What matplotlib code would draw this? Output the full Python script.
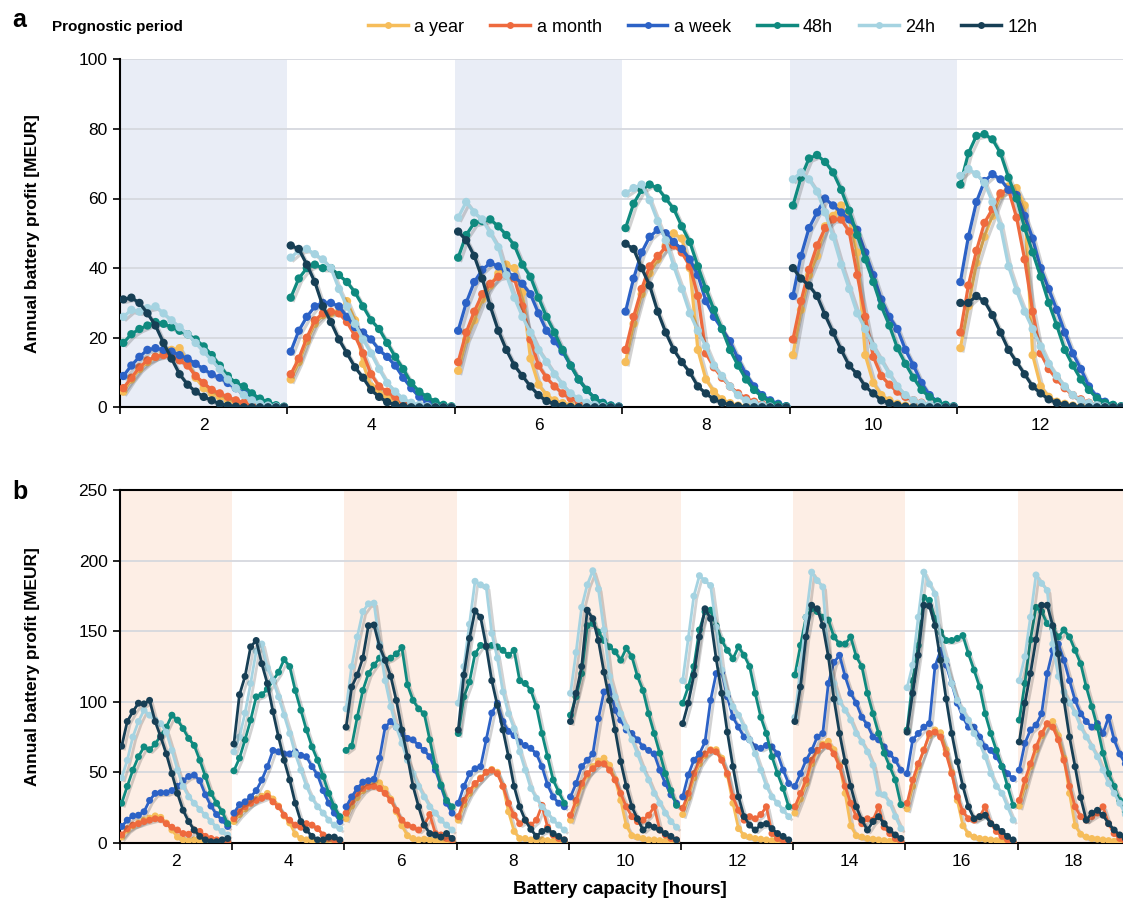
import numpy as np
import matplotlib
matplotlib.use("Agg")
import matplotlib.pyplot as plt
import matplotlib.patheffects as pe
from matplotlib.lines import Line2D

plt.rcParams['font.family'] = ['Liberation Sans', 'DejaVu Sans']

series_names = ['a year', 'a month', 'a week', '48h', '24h', '12h']
series_colors = ['#f6bd5a', '#ee6a3e', '#2c62c6', '#0f8a7f', '#a5d3e1', '#173f55']

# ---- panel a: battery capacity 2..12 h, 21 points per capacity ----
cap_a = [2, 4, 6, 8, 10, 12]

year_a = [
    [4.5, 8, 11, 13, 14.5, 15.5, 16.5, 17, 13, 8.5, 5.5, 4, 3, 2, 1.5, 1, 0.5, 0.2, 0, 0, 0],
    [8, 13, 19, 24, 26.5, 27, 27.5, 30.5, 25, 12.5, 6, 4, 3, 2, 1.2, 0.6, 0.3, 0, 0, 0, 0],
    [10.5, 19.5, 25, 31, 35, 38.5, 41, 40, 33, 14, 6.5, 3.5, 2, 1.2, 0.6, 0.3, 0, 0, 0, 0, 0],
    [13, 24, 32.5, 38.5, 42.5, 46.5, 50, 48.5, 40, 16.5, 8, 4.5, 2.3, 1.2, 0.5, 0.2, 0, 0, 0, 0, 0],
    [15, 28, 38, 43.5, 52, 55, 58, 54, 44.5, 15, 7, 3.5, 2, 1, 0.5, 0.2, 0, 0, 0, 0, 0],
    [17, 29, 41.5, 49, 55, 61, 63.5, 63, 58, 15, 6, 3, 1.6, 1, 0.5, 0.2, 0, 0, 0, 0, 0],
]
month_a = [
    [5.5, 8.5, 11.5, 13.5, 14.5, 15, 14.5, 13.5, 12, 9, 7, 5, 4, 3, 2, 1.3, 0.6, 0.3, 0.1, 0, 0],
    [9.5, 14, 20, 25, 27, 27.5, 27, 24.5, 20.5, 15.5, 9.5, 6, 4.5, 3, 1.6, 1, 0.5, 0.2, 0, 0, 0],
    [13, 21.5, 27.5, 32.5, 35.5, 37.5, 38, 37, 29, 19.5, 12, 8.5, 6, 4, 2.6, 1.6, 1, 0.5, 0.2, 0, 0],
    [16.5, 26, 34, 40.5, 43.5, 46, 46.5, 44.5, 40.5, 32, 15.5, 11.5, 8.5, 6, 4, 2.6, 1.6, 0.8, 0.3, 0, 0],
    [19.5, 30.5, 39.5, 46.5, 51.5, 54, 54, 50.5, 38, 26, 14.5, 9, 6.5, 4.5, 3, 2, 1.3, 0.6, 0.2, 0, 0],
    [21.5, 35, 45, 53, 57, 61.5, 62.5, 54.5, 42.5, 27.5, 15.5, 11, 8, 5.5, 3.5, 2.3, 1.3, 0.6, 0.2, 0, 0],
]
week_a = [
    [9, 12, 14.5, 16.5, 17, 16.5, 16, 15, 14, 12.5, 11, 9.5, 8.5, 7, 5.5, 4, 2.5, 1.5, 0.6, 0.2, 0],
    [16, 22, 26, 29, 30, 30, 29, 26, 23, 21.5, 19.5, 16.5, 14.5, 12, 8.5, 5.5, 3, 1.6, 1, 0.3, 0],
    [22, 30, 36, 39.5, 41.5, 40.5, 39, 37.5, 35.5, 32.5, 27, 22, 19, 16, 12, 8, 5, 2.6, 1.3, 0.5, 0.2],
    [27.5, 37, 44.5, 49, 51, 50, 47.5, 45.5, 42.5, 38, 30.5, 26, 22.5, 19, 14, 9.5, 6, 3.5, 2, 1, 0.3],
    [32, 43.5, 51.5, 56, 60, 58, 56, 54, 51, 44.5, 38, 31, 26, 22.5, 16.5, 12, 7, 3.5, 1.6, 0.6, 0.2],
    [36, 49, 59, 65, 67, 65.5, 62.5, 61, 55, 48.5, 40, 34, 28, 21.5, 15.5, 11, 6, 3, 1.6, 0.6, 0.2],
]
h48_a = [
    [18.5, 21, 22.5, 23.5, 24.5, 24, 23, 22, 21, 19.5, 17.5, 15, 12, 9, 7, 6, 4, 2.5, 1.5, 0.6, 0.2],
    [31.5, 37, 40, 41, 40, 40, 38, 36, 33, 29, 25, 22.5, 18.5, 14.5, 11, 7, 4.5, 3, 1.6, 0.7, 0.3],
    [43, 49.5, 53, 53.5, 54, 52, 49.5, 46.5, 41, 37.5, 31.5, 26, 21.5, 16.5, 12, 8, 5, 2.6, 1.2, 0.5, 0.2],
    [51.5, 58.5, 62.5, 64, 63, 60, 57, 52, 47.5, 40.5, 34, 28, 22.5, 16.5, 12, 8, 5, 3, 1.6, 0.7, 0.3],
    [58, 66, 71.5, 72.5, 70.5, 67.5, 62.5, 56.5, 49.5, 42.5, 36, 29, 23.5, 17, 12.5, 8.5, 5, 3, 1.6, 0.7, 0.3],
    [64, 73, 78, 78.5, 77, 73, 66, 60, 51.5, 44.5, 37.5, 30, 23.5, 16.5, 12, 8, 5, 2.6, 1.3, 0.7, 0.3],
]
h24_a = [
    [26, 28, 27.5, 28.5, 29, 27, 25, 23, 21, 18.5, 16, 13.5, 11, 8, 5.5, 3.5, 2, 1, 0.5, 0.2, 0],
    [43, 45, 45.5, 44, 42.5, 40, 34, 29, 24, 19.5, 15.5, 11, 7, 4.5, 2.5, 1.3, 0.7, 0.3, 0.1, 0, 0],
    [54.5, 59, 56, 54, 50, 46, 38, 31.5, 26, 21.5, 16.5, 13, 9.5, 6.5, 4, 2.5, 1.3, 0.7, 0.3, 0, 0],
    [61.5, 63, 64, 59.5, 53.5, 48, 40.5, 34, 27, 22, 17.5, 12, 9, 6, 3.5, 2, 1.2, 0.6, 0.2, 0, 0],
    [65.5, 67.5, 65.5, 62, 56, 49, 41, 34, 27, 22.5, 17.5, 13.5, 9.5, 6, 3.5, 2, 1.2, 0.7, 0.3, 0, 0],
    [66.5, 68.5, 67, 64.5, 59, 52, 40.5, 33.5, 27.5, 22.5, 17.5, 12.5, 9, 6, 3.5, 2, 1.2, 0.6, 0.2, 0, 0],
]
h12_a = [
    [31, 31.5, 30, 27, 23.5, 18.5, 14, 9.5, 6.5, 4.5, 3, 2, 1, 0.5, 0.2, 0, 0, 0, 0, 0, 0],
    [46.5, 45.5, 41, 36, 29, 24.5, 19.5, 15.5, 11.5, 8.5, 5, 3, 1.5, 0.7, 0.3, 0, 0, 0, 0, 0, 0],
    [50.5, 48, 43.5, 37, 29, 22, 16.5, 12, 9, 6, 3.5, 1.8, 1, 0.4, 0.1, 0, 0, 0, 0, 0, 0],
    [47, 45.5, 40, 35, 27.5, 21.5, 16.5, 13, 10, 6, 4, 2.3, 1.3, 0.7, 0.3, 0, 0, 0, 0, 0, 0],
    [40, 37, 35, 32, 26.5, 21.5, 16.5, 12, 9.5, 6, 4, 2, 1.2, 0.6, 0.2, 0, 0, 0, 0, 0, 0],
    [30, 30, 32, 30.5, 26.5, 21.5, 16.5, 13, 9.5, 6, 4, 2.3, 1.3, 0.7, 0.3, 0, 0, 0, 0, 0, 0],
]

# ---- panel b: battery capacity 2..18 h, 20 points per capacity ----
cap_b = [2, 4, 6, 8, 10, 12, 14, 16, 18]

year_b = [
    [4, 9, 12, 14, 16, 17.5, 19, 18, 14, 9, 4, 2, 1.5, 2, 1.5, 1, 0.5, 0.3, 0.2, 0.1],
    [15, 20, 24, 28, 31, 33, 35, 31, 26, 19, 14, 6, 3, 2, 1.5, 1, 0.5, 0.3, 0.2, 0.1],
    [17, 26, 32, 37, 40, 41.5, 42.5, 38, 31, 22, 12, 5, 3, 2, 2.5, 2, 1.5, 1, 0.5, 0.3],
    [16, 27, 35, 41, 46, 50, 52, 50, 40, 22, 8, 3, 3, 2, 1.5, 2, 1.5, 1, 0.5, 0.3],
    [16, 28, 40, 48, 54, 58, 60, 55, 45, 30, 12, 5, 4, 3, 2, 2, 1.5, 1, 0.5, 0.3],
    [20, 32, 46, 56, 62, 66, 66, 60, 48, 28, 10, 5, 4, 3, 2.5, 2, 1.5, 1, 0.5, 0.3],
    [21, 31, 42, 56, 65, 70, 72, 66, 55, 35, 12, 5, 4, 3, 2.5, 2, 1.5, 1, 0.5, 0.3],
    [24, 40, 54, 66, 76, 80, 78, 66, 50, 30, 12, 6, 4, 3, 2.5, 2, 1.5, 1, 0.5, 0.3],
    [26, 40, 54, 66, 76, 84, 86, 76, 60, 35, 12, 6, 4, 3, 2.5, 2, 1.5, 1, 0.5, 0.3],
]
month_b = [
    [5.5, 10, 12.5, 13.5, 15, 16, 17, 16.5, 13.5, 11, 9, 6.5, 6, 9, 8, 4.5, 3, 2, 1, 0.7],
    [17, 22, 25.5, 28, 30, 31.5, 33, 29, 25.5, 19.5, 16, 12.5, 11, 13.5, 12.5, 10, 5.5, 3, 2, 0.7],
    [21, 29, 35, 38.5, 40, 40, 38.5, 35, 30, 23, 16, 12.5, 11, 9, 12.5, 20, 6.5, 5.5, 3, 2],
    [18.5, 30, 37, 42, 45.5, 50, 51.5, 49, 40, 28, 19.5, 13.5, 16, 12.5, 16, 26.5, 11, 5.5, 3, 2],
    [19.5, 30, 42, 49, 52.5, 56, 56, 51.5, 44.5, 35, 25.5, 18.5, 15, 16, 19.5, 25.5, 9, 5.5, 3, 2],
    [24.5, 35, 49, 58.5, 63, 65.5, 64.5, 58.5, 49, 32.5, 23, 16, 18.5, 17, 20, 25.5, 6.5, 3, 2, 0.7],
    [25.5, 35, 44.5, 58.5, 65.5, 69, 68.5, 63, 54, 40, 28, 18.5, 13.5, 17, 16, 25.5, 11, 6.5, 3, 1],
    [28, 44.5, 56, 65.5, 77.5, 78.5, 75, 63, 49, 32.5, 22, 17, 16, 18.5, 25.5, 13.5, 8, 4.5, 2, 0.7],
    [30, 44.5, 56, 68, 77.5, 84.5, 82, 73, 58.5, 40, 25.5, 18.5, 16, 18.5, 21, 25.5, 13.5, 6.5, 3, 1],
]
week_b = [
    [11.5, 16, 19, 19.5, 22, 30, 35, 35.5, 35.5, 37, 40, 44, 47, 48, 44, 34, 26, 20, 16, 11.5],
    [21, 27, 29, 32.5, 37, 44.5, 54, 65.5, 64.5, 63, 63, 64.5, 62, 61, 54, 48, 37, 28, 21, 15],
    [25.5, 32.5, 38.5, 43, 44, 45, 60, 82, 86, 82, 77.5, 74, 73, 69, 65.5, 61, 51.5, 40, 28, 21],
    [28, 40, 49, 52.5, 54, 73, 92, 99, 86, 79, 76, 71.5, 69, 67, 63, 54, 41, 32.5, 28, 25.5],
    [32.5, 42, 54, 58.5, 63, 88, 107, 110.5, 94, 87, 80, 77.5, 73, 68, 65.5, 63, 51.5, 42, 34, 28],
    [32.5, 48, 58.5, 63, 71.5, 101, 120, 121, 103.5, 89, 82, 75, 73, 68, 67, 69, 68, 63, 51.5, 42],
    [40, 49, 58.5, 65.5, 75, 77.5, 113, 128, 133, 118, 106, 99, 89, 83.5, 75, 73, 68, 63, 58.5, 51.5],
    [49, 73, 77.5, 82, 84.5, 125, 136.5, 126, 113, 99, 89, 82, 82, 75, 68, 65.5, 61, 54, 49, 45.5],
    [51.5, 70.5, 80, 83.5, 91.5, 120, 136.5, 141, 129.5, 115, 101, 91.5, 86, 82, 84.5, 77.5, 89, 73, 63, 56],
]
h48_b = [
    [28, 40, 51.5, 61, 68, 66, 70, 76, 82, 90.5, 87, 81, 74, 69, 58.5, 47, 35, 28, 22, 13.5],
    [51, 60, 73, 87, 103.5, 105, 109, 115, 121, 130, 125, 108, 94, 80, 68, 58.5, 47, 35, 25.5, 18.5],
    [65.5, 68.5, 89, 108, 120, 126, 131, 129.5, 131, 134, 138.5, 112, 101, 95, 91.5, 73, 54, 41, 30, 25.5],
    [77.5, 103.5, 114, 134, 140, 139, 140, 139, 136.5, 133, 136.5, 115, 113, 108, 96.5, 77.5, 61, 44.5, 36, 28],
    [90.5, 103.5, 120, 154, 155.5, 149.5, 143.5, 139, 135.5, 129.5, 138, 132, 118, 108, 91.5, 77.5, 63.5, 49, 37, 26.5],
    [99, 110.5, 125, 151, 164, 165, 154, 143.5, 136.5, 130.5, 139, 133, 125, 106, 89, 77.5, 61, 49, 38.5, 25.5],
    [119, 140, 160, 166, 164, 160, 158, 146, 141, 141, 146, 132, 125, 106, 91.5, 77.5, 63.5, 54, 44.5, 27],
    [80, 115, 140, 174, 172, 159, 149.5, 143.5, 143.5, 145, 147, 134, 122.5, 110.5, 91.5, 77.5, 65.5, 54, 40, 26.5],
    [87, 113, 144, 167, 164, 155.5, 152, 146, 151, 146, 136.5, 127, 110.5, 96.5, 82, 63.5, 49, 40, 30, 22],
]
h24_b = [
    [46, 58.5, 75, 86, 94, 90.5, 87, 84.5, 78.5, 65.5, 51.5, 40, 32.5, 28, 23.5, 19.5, 15, 11, 8, 5.5],
    [64.5, 75, 92, 113, 136, 141, 124, 115, 103.5, 90.5, 77.5, 63, 51.5, 40, 31.5, 25.5, 21, 16, 12.5, 10],
    [95, 125, 146, 164, 169.5, 170, 141, 115, 96.5, 82, 70.5, 58.5, 49, 40, 32.5, 25.5, 21, 16, 12.5, 9],
    [99, 125, 155, 185.5, 183, 181.5, 148.5, 131, 107, 91.5, 81, 64.5, 51.5, 38.5, 31.5, 25.5, 21, 16, 12.5, 9],
    [106, 135, 167, 183, 193, 180, 151, 118, 103.5, 91.5, 82, 73, 63, 52.5, 44.5, 35, 28, 21, 15, 11],
    [115, 145, 175, 189.5, 186, 182.5, 153, 122.5, 106, 96.5, 90.5, 82, 73, 63, 51.5, 40, 32.5, 28, 23, 18.5],
    [89, 123.5, 160, 192, 186, 181.5, 132, 113, 100, 94, 87, 77.5, 71.5, 64.5, 55, 35, 34, 28, 18.5, 10],
    [110, 126, 160, 192, 183.5, 176.5, 144, 129.5, 113, 101, 94, 87, 77.5, 70.5, 61, 49, 40, 35, 25.5, 16],
    [115, 132, 160, 190, 184, 179, 141, 118, 107, 99, 92, 82, 75, 68, 61, 51.5, 42, 35, 28, 20],
]
h12_b = [
    [68.5, 86, 93, 99, 98.5, 101, 86, 75, 63, 49, 35, 23, 15, 9, 4.5, 2, 0.7, 0.7, 2, 3],
    [70, 105, 118, 139, 143.5, 127, 113, 93, 75, 58.5, 44.5, 28, 15, 9, 4.5, 2, 2, 4, 4, 2],
    [82, 110.5, 119, 131, 154, 154.5, 139, 129.5, 118, 101, 80, 61, 40, 25.5, 12.5, 6.5, 5.5, 4, 6.5, 3],
    [80, 119, 145, 164.5, 160, 139.5, 115, 97.5, 80, 61, 40, 25.5, 16, 9.5, 4.5, 8, 9.5, 6.5, 4.5, 2],
    [86, 106, 125, 165, 159, 143.5, 121, 101, 80, 57.5, 40, 25.5, 17, 9, 12.5, 11, 9, 6.5, 4.5, 2],
    [84.5, 99, 119, 146, 166, 159, 130.5, 106, 78.5, 54, 32.5, 18.5, 12.5, 9, 12.5, 13.5, 10, 6.5, 4.5, 2],
    [86, 110.5, 146, 168.5, 166, 154, 132, 102, 77.5, 57.5, 40, 25.5, 16, 9, 15, 18.5, 13.5, 9, 5.5, 3],
    [78.5, 106, 133, 168.5, 168, 154, 129.5, 102, 77.5, 57.5, 40, 25.5, 17, 18.5, 19.5, 13.5, 11, 8, 4.5, 2],
    [71.5, 99, 120, 144, 168.5, 168.5, 154, 134, 101, 75, 54, 32, 16, 21, 23, 19.5, 13.5, 9, 5.5, 3],
]

data_a = [year_a, month_a, week_a, h48_a, h24_a, h12_a]
data_b = [year_b, month_b, week_b, h48_b, h24_b, h12_b]

shadow = [pe.SimpleLineShadow(offset=(2, -2), shadow_color='0.2', alpha=0.22), pe.Normal()]


def draw_panel(ax, caps, data, band_color, ms, lw, pad_l, pad_r):
    for i, c in enumerate(caps):
        if i % 2 == 0:
            ax.axvspan(c - 1, c + 1, color=band_color, lw=0, zorder=0)
    for vals, col in zip(data, series_colors):
        for c, v in zip(caps, vals):
            x = np.linspace(c - 1 + pad_l, c + 1 - pad_r, len(v))
            ax.plot(x, v, '-o', color=col, ms=ms, lw=lw, mew=0,
                    path_effects=shadow, zorder=3)
    ax.set_xticks(np.arange(1, 2 * len(caps) + 2, 2))
    ax.set_xticklabels([])
    ax.set_xticks(caps, minor=True)
    ax.set_xticklabels([str(c) for c in caps], minor=True)
    ax.tick_params(axis='x', which='major', length=5, width=1.2, direction='out')
    ax.tick_params(axis='x', which='minor', length=0, pad=8, labelsize=12.5)
    ax.tick_params(axis='y', length=5, width=1.2, labelsize=12.5, pad=4)
    ax.grid(axis='y', color='#d6d8de', lw=1.3, zorder=1)
    ax.set_axisbelow(True)
    ax.spines['right'].set_visible(False)
    for s in ['left', 'bottom', 'top']:
        ax.spines[s].set_linewidth(1.5)


W, H = 1123, 911
fig = plt.figure(figsize=(W / 100, H / 100), dpi=100)

ax_a = fig.add_axes([120 / W, 1 - 407.3 / H, (W - 120) / W, 348 / H])
draw_panel(ax_a, cap_a, data_a, '#e9edf6', 6.0, 2.3, 0.04, 0.04)
ax_a.set_xlim(1, 1 + 1003 / 83.7)
ax_a.set_ylim(0, 100)
ax_a.set_yticks(np.arange(0, 101, 20))
ax_a.spines['top'].set_visible(False)

ax_b = fig.add_axes([120 / W, 1 - 842.7 / H, (W - 120) / W, 352.3 / H])
draw_panel(ax_b, cap_b, data_b, '#fdeee5', 5.0, 2.0, 0.03, 0.08)
ax_b.set_xlim(1, 1 + 1003 / 56.1)
ax_b.set_ylim(0, 250)
ax_b.set_yticks(np.arange(0, 251, 50))

for ax in (ax_a, ax_b):
    ax.set_ylabel('Annual battery profit [MEUR]', fontsize=12.5, fontweight='bold')
    ax.yaxis.set_label_coords(-0.080, 0.5)
ax_b.set_xlabel('Battery capacity [hours]', fontsize=13.5, fontweight='bold')
ax_b.xaxis.set_label_coords(0.4985, -0.11)

fig.text(12 / W, 1 - 20 / H, 'a', fontsize=18, fontweight='bold', va='center')
fig.text(12 / W, 1 - 492 / H, 'b', fontsize=18, fontweight='bold', va='center')

fig.text(52 / W, 1 - 27 / H, 'Prognostic period', fontsize=11, fontweight='bold',
         va='center', family=['Liberation Sans Narrow', 'Liberation Sans'])
handles = [Line2D([], [], color=c, marker='o', ms=5, lw=2.5, mew=0) for c in series_colors]
fig.legend(handles, series_names, loc='center left', bbox_to_anchor=(352 / W, 1 - 27 / H),
           ncol=6, frameon=False, handlelength=2.2, handletextpad=0.35, columnspacing=1.45,
           prop={'family': ['Liberation Sans Narrow', 'Liberation Sans'], 'size': 13})

fig.savefig('out.png', dpi=100)
